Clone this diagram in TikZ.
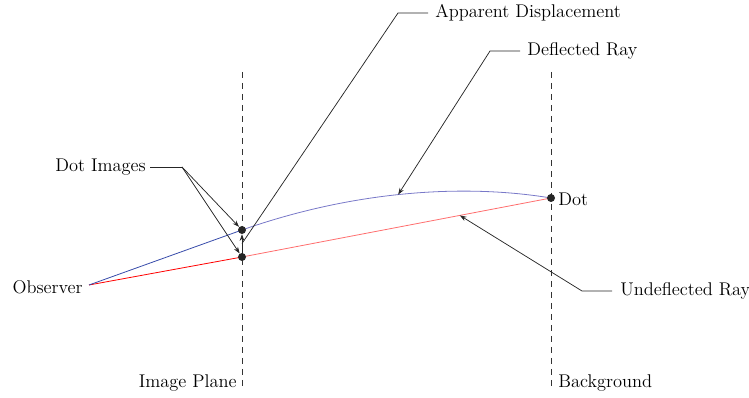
\documentclass[tikz,border=0pt]{standalone}
\usetikzlibrary{arrows.meta}
\definecolor{bluedark}{RGB}{55,75,170}
\definecolor{bluelight}{RGB}{120,120,200}
\definecolor{redlight}{RGB}{255,110,110}
\begin{document}
\begin{tikzpicture}[x=0.75pt,y=-0.75pt,
  every node/.style={font=\fontsize{13.8}{16}\selectfont},
  dotnode/.style={circle,fill=black!85,inner sep=0pt,minimum size=6pt},
  plane/.style={dashed,dash pattern=on 4.5pt off 3.75pt,line width=0.6pt,black!80},
  callout/.style={line width=0.55pt,black!85},
  tip/.style={-{Stealth[length=5pt,width=3.5pt]}}]
\useasboundingbox (0,0) rectangle (749,398);
% planes
\draw[plane] (242,72) -- (242,390);
\draw[plane] (551,72) -- (551,390);
\node[anchor=base east,inner sep=0pt] (iplab) at (237,388) {Image Plane};
\node[anchor=base west,inner sep=0pt] (bglab) at (558,388) {Background};
% points
\coordinate (obs) at (89,285);
\node[anchor=east,inner sep=0pt] (obslab) at (83,287) {Observer};
\coordinate (dotc) at (551,198);
\coordinate (upc) at (242,230);
\coordinate (loc) at (242,257);
% rays
\draw[red,line width=0.6pt] (obs) -- (loc);
\draw[redlight,line width=0.6pt] (loc) -- node[pos=0.705,coordinate] (uray) {} (dotc);
\draw[bluedark,line width=0.6pt] (obs) -- (upc);
\draw[bluelight,line width=0.6pt] (upc) .. controls (350,192) and (460,183) .. node[pos=0.485,coordinate] (dray) {} (dotc);
% dots
\node[dotnode] (dot) at (dotc) {};
\node[dotnode] (dotU) at (upc) {};
\node[dotnode] (dotL) at (loc) {};
\node[anchor=west,inner sep=0pt] (dotlab) at (558,199) {Dot};
% displacement arrow
\draw[callout,tip] (dotL) -- coordinate[pos=0.5] (dmid) (dotU);
% callouts
\node[anchor=east,inner sep=0pt] (dilab) at (146,167) {Dot Images};
\coordinate (di1) at (150,167);
\coordinate (di2) at (182,167);
\draw[callout] (di1) -- (di2);
\draw[callout,tip] (di2) -- (dotU);
\draw[callout,tip] (di2) -- (dotL);
\node[anchor=west,inner sep=0pt] (adlab) at (435,13) {Apparent Displacement};
\coordinate (ad1) at (428,13);
\coordinate (ad2) at (398,13);
\draw[callout] (ad1) -- (ad2) -- (dmid);
\node[anchor=west,inner sep=0pt] (drlab) at (527,51) {Deflected Ray};
\coordinate (dr1) at (520,51);
\coordinate (dr2) at (490,51);
\draw[callout,tip] (dr1) -- (dr2) -- (dray);
\node[anchor=west,inner sep=0pt] (urlab) at (620,291) {Undeflected Ray};
\coordinate (ur1) at (612,291);
\coordinate (ur2) at (582,291);
\draw[callout,tip] (ur1) -- (ur2) -- (uray);
\end{tikzpicture}
\end{document}
